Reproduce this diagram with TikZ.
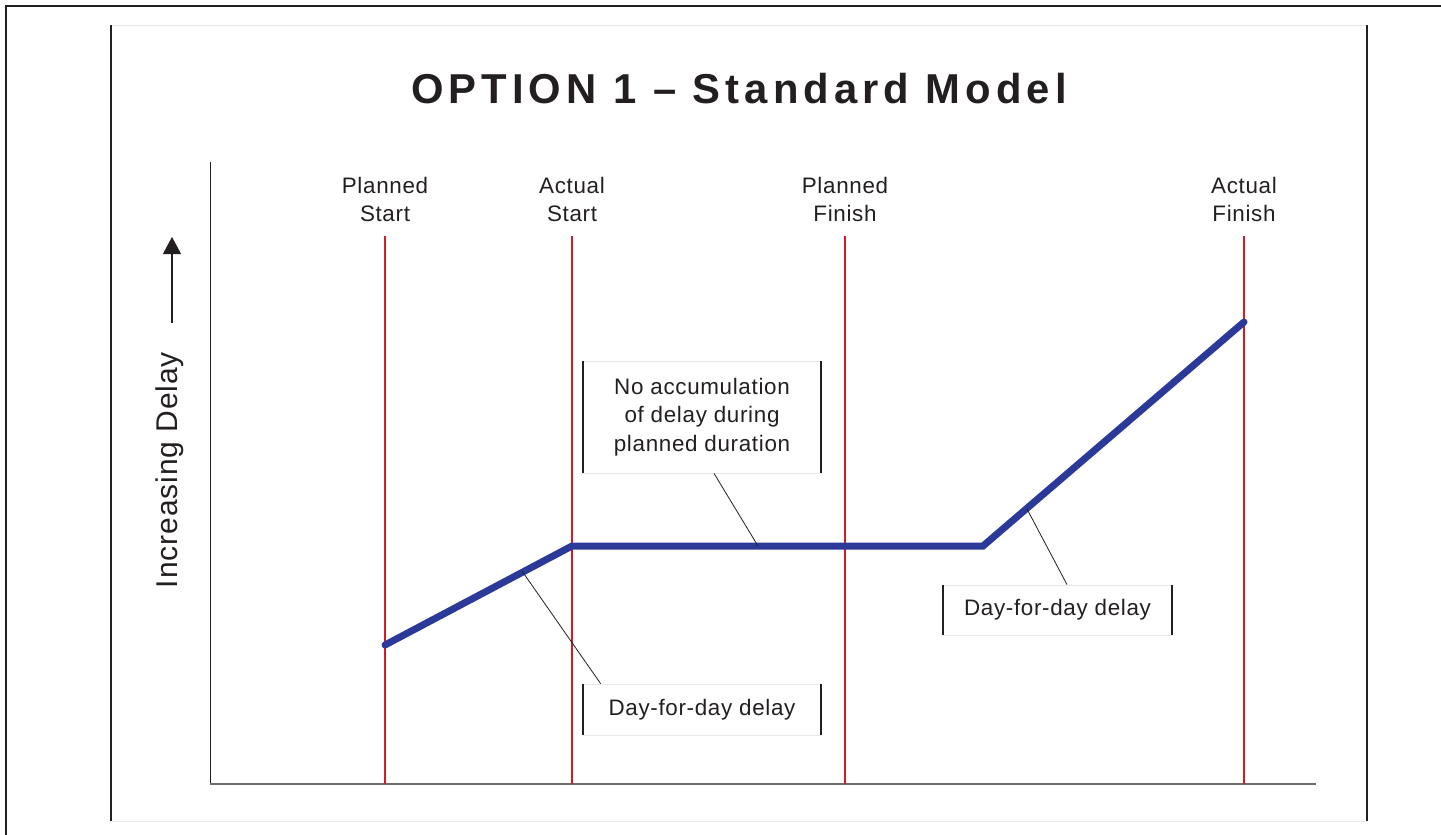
\documentclass[tikz,border=0pt]{standalone}
\usepackage{fontspec}
\setmainfont{Liberation Sans}
\usepackage{tikz}
\usetikzlibrary{arrows.meta,positioning}
\usepackage{xcolor}
\definecolor{dfnavy}{RGB}{43,58,152}
\definecolor{dfred}{RGB}{215,25,35}
\definecolor{dfgray}{RGB}{110,110,110}
\definecolor{dflightgray}{RGB}{232,232,232}
\definecolor{dftext}{RGB}{35,31,32}
\newfontfamily\titlefont[LetterSpace=12]{Liberation Sans}
\newfontfamily\spacedfont[LetterSpace=3]{Liberation Sans}
\tikzstyle{milestone} = [line width=0.6pt, color=dfred]
\tikzstyle{delayline} = [line width=3.5pt, color=dfnavy, line cap=round]
\tikzstyle{leader} = [line width=0.4pt, color=dftext]
\tikzstyle{bar} = [line width=1pt, color=dftext]
\tikzstyle{marklabel} = [align=center, anchor=south, inner sep=0pt, text=dftext, font=\spacedfont\fontsize{11.2}{14}\selectfont]
\tikzstyle{notebox} = [rectangle, minimum width=119pt, minimum height=25pt, align=center, draw=dflightgray, line width=0.4pt, inner sep=0pt, text=dftext, font=\spacedfont\fontsize{11.2}{14.3}\selectfont]

\begin{document}
\begin{tikzpicture}[x=0.5pt, y=-0.5pt]
\useasboundingbox (0,0) rectangle (1441,835);
% Frames
\draw[line width=0.6pt, dftext] (6,835) -- (6,6) -- (1441,6);
\draw[line width=0.5pt, dflightgray] (111,25) -- (1367,25);
\draw[line width=0.5pt, dflightgray] (111,821) -- (1367,821);
\draw[line width=0.8pt, dftext] (111,25) -- (111,821);
\draw[line width=0.8pt, dftext] (1367,25) -- (1367,821);

% Title
\node[anchor=base, inner sep=0pt, text=dftext, font=\titlefont\bfseries\fontsize{20.9}{24}\selectfont] (title) at (739,103) {OPTION 1 \textendash{} Standard Model};

% Axes
\draw[line width=0.5pt, dftext] (210,162) -- (210,784);
\draw[line width=1.1pt, dfgray] (210,784) -- (1316,784);
\node[rotate=90, inner sep=0pt, text=dftext, font=\spacedfont\fontsize{15}{18}\selectfont] (ylabel) at (170,470) {Increasing Delay};
\coordinate (arrowfoot) at (172,323);
\coordinate (arrowtip) at (172,237);
\draw[line width=0.6pt, dftext, -{Triangle[width=9pt,length=8.5pt]}] (arrowfoot) -- (arrowtip);

% Milestones
\node[marklabel] (ps) at (385,222) {Planned\\Start};
\node[marklabel] (as) at (572,222) {Actual\\Start};
\node[marklabel] (pf) at (845,222) {Planned\\Finish};
\node[marklabel] (af) at (1244,222) {Actual\\Finish};
\draw[milestone] (385,236) -- (385,784);
\draw[milestone] (572,236) -- (572,784);
\draw[milestone] (845,236) -- (845,784);
\draw[milestone] (1244,236) -- (1244,784);

% Delay curve
\coordinate (c0) at (385,645);
\coordinate (c1) at (572,546);
\coordinate (c2) at (983,546);
\coordinate (c3) at (1244,322);
\draw[delayline] (c0) -- (c1) -- (c2) -- (c3);
\coordinate (h1) at (522,571);
\coordinate (h2) at (758,546);
\coordinate (h3) at (1027,509);

% Notes
\node[notebox, minimum height=56pt] (noacc) at (702,417) {No accumulation\\of delay during\\planned duration};
\node[notebox, minimum height=25.5pt] (dfd1) at (702,709.5) {Day-for-day delay};
\node[notebox, minimum width=114.5pt] (dfd2) at (1057.5,610) {Day-for-day delay};
\draw[bar] (noacc.north west) -- (noacc.south west);
\draw[bar] (noacc.north east) -- (noacc.south east);
\draw[bar] (dfd1.north west) -- (dfd1.south west);
\draw[bar] (dfd1.north east) -- (dfd1.south east);
\draw[bar] (dfd2.north west) -- (dfd2.south west);
\draw[bar] (dfd2.north east) -- (dfd2.south east);

\draw[leader] ([xshift=6pt]noacc.south) -- (h2);
\draw[leader] ([xshift=9pt]dfd1.north west) -- (h1);
\draw[leader] ([xshift=4.75pt]dfd2.north) -- (h3);
\end{tikzpicture}
\end{document}
